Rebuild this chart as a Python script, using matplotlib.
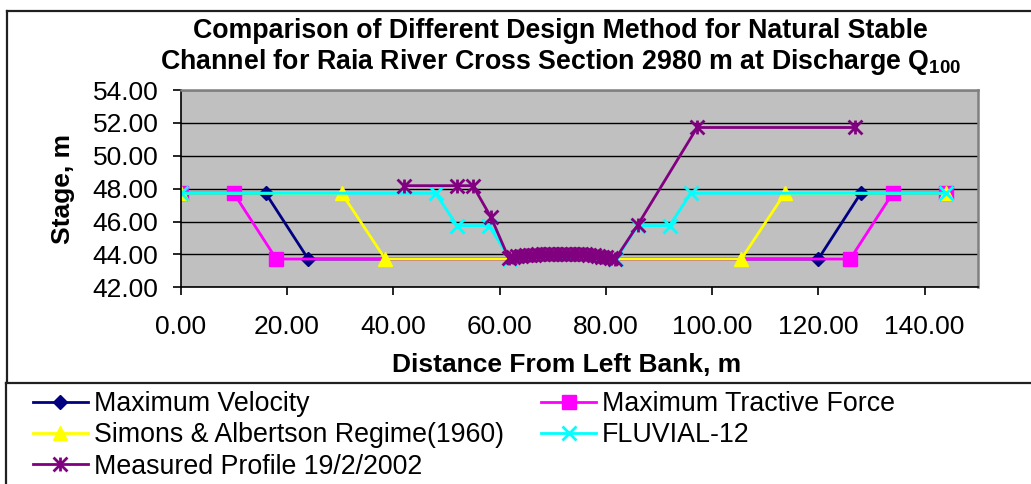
import matplotlib
matplotlib.use("Agg")
import matplotlib.pyplot as plt
from matplotlib.path import Path
from matplotlib.patches import Rectangle
from matplotlib.lines import Line2D

plt.rcParams["font.family"] = ["Liberation Sans", "DejaVu Sans"]
plt.rcParams["mathtext.fontset"] = "custom"
plt.rcParams["mathtext.bf"] = "Liberation Sans:bold"
plt.rcParams["mathtext.rm"] = "Liberation Sans"

# --- data ---
vel_x = [0, 16, 24, 120, 128, 144]
vel_y = [47.72, 47.72, 43.72, 43.72, 47.72, 47.72]

tract_x = [0, 10, 18, 126, 134, 144]
tract_y = [47.72, 47.72, 43.72, 43.72, 47.72, 47.72]

simons_x = [0, 30.3, 38.5, 105.5, 113.7, 144]
simons_y = [47.72, 47.72, 43.72, 43.72, 47.72, 47.72]

fluvial_x = [0, 48, 52, 58, 62, 82, 86, 92, 96, 144]
fluvial_y = [47.72, 47.72, 45.75, 45.75, 43.72, 43.72, 45.75, 45.75, 47.72, 47.72]

meas_x = [42, 52, 55, 58.4,
          61.7, 62.5, 63.3, 64.1, 64.9, 65.7, 66.5, 67.3, 68.1, 68.9, 69.7, 70.5, 71.3,
          72.1, 72.9, 73.7, 74.5, 75.3, 76.1, 76.9, 77.7, 78.5, 79.3, 80.1, 80.9, 81.8,
          86, 97.2, 127]
meas_y = [48.18, 48.18, 48.18, 46.26,
          43.80, 43.86, 43.90, 43.93, 43.95, 43.97, 43.99, 44.00, 44.01, 44.02, 44.03, 44.04, 44.04,
          44.05, 44.04, 44.04, 44.03, 44.02, 44.00, 43.98, 43.95, 43.91, 43.87, 43.82, 43.77, 43.72,
          45.78, 51.72, 51.72]

x_ticks = [0, 20, 40, 60, 80, 100, 120, 140]
y_ticks = [42, 44, 46, 48, 50, 52, 54]

W, H = 1031, 484
fig = plt.figure(figsize=(W / 100, H / 100), dpi=100)


def fig_line(x0, y0, x1, y1, z):
    # pixel coords (from top-left) -> figure line
    fig.add_artist(Line2D([x0 / W, x1 / W], [1 - y0 / H, 1 - y1 / H], transform=fig.transFigure,
                          color="#202020", linewidth=1.6, zorder=z))


# outer chart frame: only left and top edges are inside the picture
fig_line(7, 11, 7, H + 5, 0)
fig_line(7, 11, W + 5, 11, 0)

ax = fig.add_axes([180.7 / W, 1 - 287.3 / H, (977.7 - 180.7) / W, (287.3 - 90) / H])
ax.set_facecolor("#C0C0C0")

# asterisk marker like Excel's: an x plus a vertical bar
star = Path([(-1, -1), (1, 1), (-1, 1), (1, -1), (0, -1), (0, 1)],
            [Path.MOVETO, Path.LINETO] * 3)

ax.plot(vel_x, vel_y, color="#000080", lw=2, marker="D", ms=7, label="Maximum Velocity")
ax.plot(tract_x, tract_y, color="#FF00FF", lw=2, marker="s", ms=10.5, label="Maximum Tractive Force")
ax.plot(simons_x, simons_y, color="#FFFF00", lw=2, marker="^", ms=10.5,
        label="Simons & Albertson Regime(1960)")
ax.plot(fluvial_x, fluvial_y, color="#00FFFF", lw=2, marker="x", ms=10, mew=2, label="FLUVIAL-12")
ax.plot(meas_x, meas_y, color="#800080", lw=2, marker=star, ms=10, mew=2,
        label="Measured Profile 19/2/2002")

ax.set_xlim(0, 150)
ax.set_ylim(42, 54)
ax.set_xticks(x_ticks)
ax.set_yticks(y_ticks)
ax.set_xticklabels([f"{v:.2f}" for v in x_ticks])
ax.set_yticklabels([f"{v:.2f}" for v in y_ticks])
ax.tick_params(direction="out", length=6, width=1.2, labelsize=19, colors="black")
ax.tick_params(axis="y", pad=10)
ax.tick_params(axis="x", pad=14)
ax.grid(axis="y", color="black", linewidth=1)
ax.set_axisbelow(True)

for side in ["top", "right"]:
    ax.spines[side].set_color("#808080")
    ax.spines[side].set_linewidth(1.8)
for side in ["left", "bottom"]:
    ax.spines[side].set_color("black")
    ax.spines[side].set_linewidth(1.2)

ax.set_xlabel("Distance From Left Bank, m", fontsize=19, fontweight="bold")
ax.xaxis.set_label_coords((567 - 180.7) / (977.7 - 180.7), -(372 - 287.3) / (287.3 - 90))
ax.xaxis.label.set_va("baseline")
ax.set_ylabel("Stage, m", fontsize=19, fontweight="bold")
ax.yaxis.set_label_coords(-(180.7 - 63) / (977.7 - 180.7), 0.5)
ax.yaxis.label.set_va("center")

fig.text(560 / W, 1 - 38 / H, "Comparison of Different Design Method for Natural Stable",
         ha="center", va="baseline", fontsize=19.3, fontweight="bold")
fig.text(561 / W, 1 - 69 / H,
         r"Channel for Raia River Cross Section 2980 m at Discharge $\mathbf{Q_{100}}$",
         ha="center", va="baseline", fontsize=19.3, fontweight="bold")

# legend box (runs off the right / bottom edge)
fig.add_artist(Rectangle((6 / W, 0), 1 - 6 / W, 1 - 383 / H, transform=fig.transFigure,
                         facecolor="white", edgecolor="none", zorder=1))
fig_line(6, 383, 6, H + 5, 1.5)
fig_line(6, 383, W + 5, 383, 1.5)

handles, labels = ax.get_legend_handles_labels()
# legend fills columns first; reorder so entries read across rows
order = [0, 2, 4, 1, 3]
leg = fig.legend([handles[i] for i in order], [labels[i] for i in order],
                 loc="upper left", bbox_to_anchor=(33 / W, 1 - 391 / H),
                 ncol=2, frameon=False, fontsize=19.3, handlelength=2.05, handletextpad=0.22,
                 columnspacing=1.4, labelspacing=0.2, borderpad=0, borderaxespad=0)
leg.set_zorder(2)

fig.savefig("out.png", dpi=100)
